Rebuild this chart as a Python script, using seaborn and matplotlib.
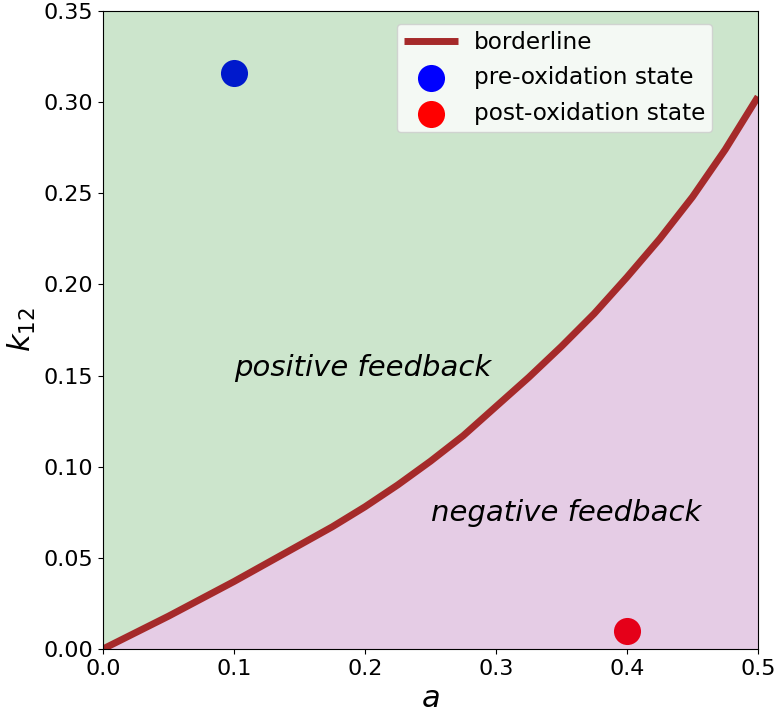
import matplotlib
matplotlib.use("Agg")
import matplotlib.pyplot as plt
import seaborn as sns
import pandas as pd

# borderline between the two feedback regimes
a_vals = [0.0, 0.025, 0.05, 0.075, 0.10, 0.125, 0.15, 0.175, 0.20, 0.225, 0.25,
          0.275, 0.30, 0.325, 0.35, 0.375, 0.40, 0.425, 0.45, 0.475, 0.50]
k12_vals = [0.0, 0.009, 0.018, 0.0275, 0.037, 0.047, 0.057, 0.067, 0.078, 0.090, 0.103,
            0.117, 0.133, 0.149, 0.166, 0.184, 0.204, 0.225, 0.248, 0.274, 0.303]

# states before and after oxidation
pre_a, pre_k = [0.1], [0.316]
post_a, post_k = [0.4], [0.01]

k_max = 0.35

border = pd.DataFrame({"a": a_vals, "k12": k12_vals})

fig, ax = plt.subplots(figsize=(7.78, 7.13), dpi=100)
fig.subplots_adjust(left=0.1324, right=0.9743, top=0.9846, bottom=0.0898)

sns.lineplot(data=border, x="a", y="k12", ax=ax, color="brown", lw=5,
             solid_capstyle="butt", solid_joinstyle="round", label="borderline")
sns.scatterplot(x=pre_a, y=pre_k, ax=ax, color="blue", s=380, linewidth=0,
                label="pre-oxidation state")
sns.scatterplot(x=post_a, y=post_k, ax=ax, color="red", s=380, linewidth=0,
                label="post-oxidation state")

# shade the two regions on top of the markers
ax.fill_between(a_vals, k12_vals, k_max, color="green", alpha=0.2, lw=0)
ax.fill_between(a_vals, 0, k12_vals, color="purple", alpha=0.2, lw=0)

ax.text(0.1, 0.15, "positive feedback", fontsize=21, style="italic")
ax.text(0.25, 0.07, "negative feedback", fontsize=21, style="italic")

ax.set_xlim(0, 0.5)
ax.set_ylim(0, k_max)
ax.set_xlabel("$a$", fontsize=22)
ax.set_ylabel("$k_{12}$", fontsize=22)
ax.tick_params(labelsize=16)

ax.legend(loc="upper right", bbox_to_anchor=(0.93, 0.98), borderaxespad=0,
          fontsize=16.7, handlelength=2.35, labelspacing=0.55, handletextpad=0.68,
          borderpad=0.3)

fig.savefig("out.png", dpi=100)
